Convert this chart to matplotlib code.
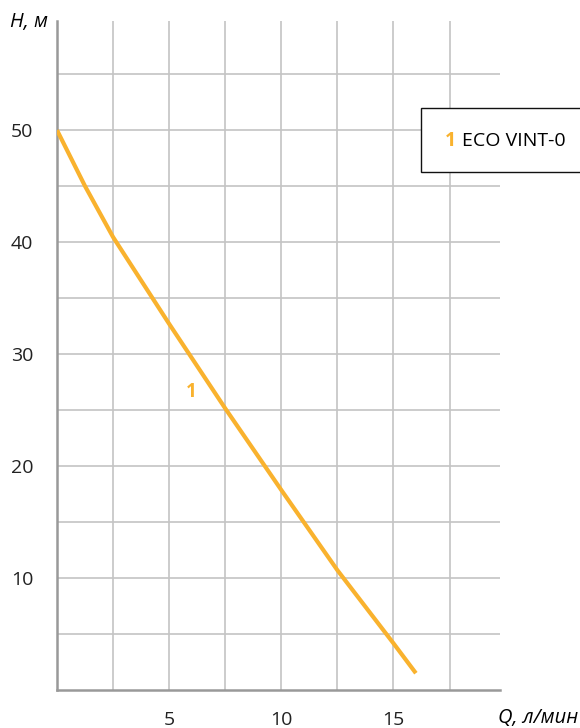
import numpy as np
import matplotlib
matplotlib.use('Agg')
import matplotlib.pyplot as plt
from matplotlib.patches import Rectangle

# pump curve ECO VINT-0
flow = [0, 1.25, 2.5, 5.0, 7.5, 10.0, 12.5, 15.0, 16.0]
head = [50, 45, 40.45, 32.7, 25.15, 17.86, 10.7, 4.17, 1.5]

x_grid = [2.5, 5, 7.5, 10, 12.5, 15, 17.5]
x_labels = ['', '5', '', '10', '', '15', '']
y_grid = [5, 10, 15, 20, 25, 30, 35, 40, 45, 50, 55]
y_labels = ['', '10', '', '20', '', '30', '', '40', '', '50', '']

curve_name = 'ECO VINT-0'
curve_color = '#F9B22E'

plt.rcParams['font.family'] = ['Open Sans', 'DejaVu Sans']

fig = plt.figure(figsize=(5.8, 7.28), dpi=100)
W, H = 580, 728
ax = fig.add_axes([57 / W, 1 - 690 / H, (500 - 57) / W, (690 - 21) / H])

ax.plot(flow, head, color=curve_color, linewidth=3, solid_capstyle='butt',
        solid_joinstyle='round', zorder=3)
ax.text(6.0, 26.6, '1', color=curve_color, fontsize=13.5, fontweight='bold',
        ha='center', va='center')

ax.set_xlim(0, 19.75)
ax.set_ylim(0, 59.75)
ax.set_xticks(x_grid)
ax.set_xticklabels(x_labels)
ax.set_yticks(y_grid)
ax.set_yticklabels(y_labels)
ax.tick_params(length=0, labelsize=14, colors='#222222')
ax.tick_params(axis='y', pad=17)
ax.tick_params(axis='x', pad=15)
ax.grid(True, color='#c4c4c4', linewidth=1.2)

for side in ['top', 'right']:
    ax.spines[side].set_visible(False)
for side in ['left', 'bottom']:
    ax.spines[side].set_color('#999999')
    ax.spines[side].set_linewidth(1.8)

# axis names
fig.text(10 / W, 1 - 22 / H, 'H, м', fontsize=14.5, style='italic', va='center', ha='left')
fig.text(578 / W, 1 - 718 / H, 'Q, л/мин', fontsize=14.5, style='italic', va='center', ha='right')

# legend box running off the right edge
fig.add_artist(Rectangle((421 / W, 1 - 172 / H), 200 / W, 64 / H, transform=fig.transFigure,
                         facecolor='white', edgecolor='#111111', linewidth=1, zorder=5))
fig.text(445 / W, 1 - 141 / H, '1', color=curve_color, fontsize=14, fontweight='bold',
         va='center', ha='left', zorder=6)
fig.text(462 / W, 1 - 141 / H, curve_name, fontsize=14, va='center', ha='left', zorder=6)

fig.savefig('out.png', dpi=100)
